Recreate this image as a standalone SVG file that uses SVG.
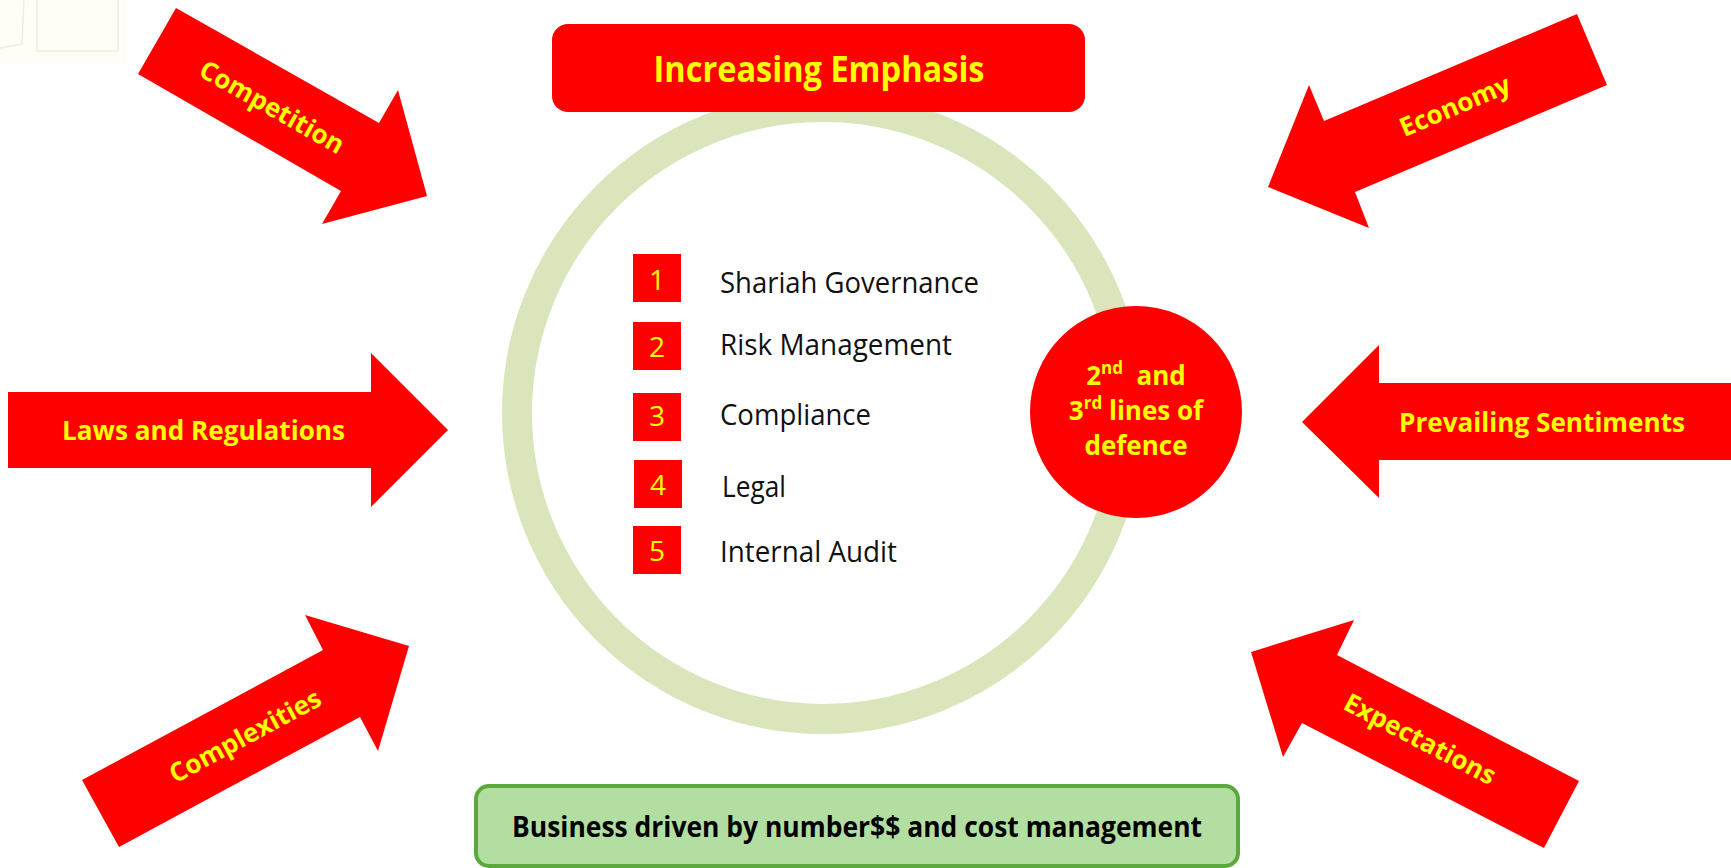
<svg xmlns="http://www.w3.org/2000/svg" width="1731" height="868" viewBox="0 0 1731 868">
<style>
.arrow{fill:#FF0000}
.lbl{font-family:"Open Sans","Liberation Sans",sans-serif;font-weight:700;font-size:26px;fill:#FFFF00}
.item{font-family:"Open Sans","Liberation Sans",sans-serif;font-size:29px;fill:#111111}
.num{font-family:"Open Sans","Liberation Sans",sans-serif;font-size:28px;fill:#FFFF00;text-anchor:middle}
.box{fill:#FF0000}
</style>
<rect width="1731" height="868" fill="#FFFFFF"/>
<g id="decor" opacity="0.9">
<rect x="0" y="0" width="126" height="64" fill="#FEFEF6"/>
<rect x="37" y="-2" width="81" height="53" fill="none" stroke="#EFEDD6" stroke-width="1.5"/>
<path d="M0,48 L22,44 L24,-2" fill="none" stroke="#EFEDD6" stroke-width="1.5"/>
</g>
<g id="ring">
<circle cx="823" cy="413" r="306" fill="none" stroke="#DAE5BC" stroke-width="30"/>
</g>
<g id="header">
<rect x="552" y="24" width="533" height="88" rx="16" fill="#FF0000"/>
<text x="819" y="82" text-anchor="middle" font-family="'Open Sans','Liberation Sans',sans-serif" font-weight="700" font-size="35" fill="#FFFF00" textLength="331" lengthAdjust="spacingAndGlyphs">Increasing Emphasis</text>
</g>
<g id="connectors">
<g id="arrow-competition">
<polygon class="arrow" points="176,8 379,123 398,90 427,196 322,224 341,191 138,74"/>
<text class="lbl" transform="translate(272,107) rotate(29.5)" x="0" y="9" text-anchor="middle">Competition</text>
</g>
<g id="arrow-economy">
<polygon class="arrow" points="1577,14 1607,85 1355,192 1369,228 1268,187 1309,85 1324,121"/>
<text class="lbl" transform="translate(1455,106) rotate(-22.9)" x="0" y="9" text-anchor="middle">Economy</text>
</g>
<g id="arrow-laws">
<polygon class="arrow" points="8,392 371,392 371,353 448,430 371,507 371,468 8,468"/>
<text class="lbl" x="62" y="440" textLength="283" lengthAdjust="spacingAndGlyphs">Laws and Regulations</text>
</g>
<g id="arrow-prevailing">
<polygon class="arrow" points="1731,383 1379,383 1379,345 1302,422 1379,498 1379,460 1731,460"/>
<text class="lbl" x="1399" y="432" textLength="286" lengthAdjust="spacingAndGlyphs">Prevailing Sentiments</text>
</g>
<g id="arrow-complexities">
<polygon class="arrow" points="82,780 323,650 305,615 409,646 378,751 360,717 119,847"/>
<text class="lbl" transform="translate(245,736) rotate(-28.3)" x="0" y="9" text-anchor="middle">Complexities</text>
</g>
<g id="arrow-expectations">
<polygon class="arrow" points="1579,781 1544,848 1302,723 1283,757 1251,652 1354,620 1337,655"/>
<text class="lbl" transform="translate(1420,739) rotate(27.5)" x="0" y="9" text-anchor="middle">Expectations</text>
</g>
</g>
<g id="item-1">
<rect class="box" x="633" y="254" width="48" height="48"/>
<text class="num" x="657" y="290">1</text>
<text class="item" x="720" y="293" textLength="259" lengthAdjust="spacingAndGlyphs">Shariah Governance</text>
</g>
<g id="item-2">
<rect class="box" x="633" y="322" width="48" height="48"/>
<text class="num" x="657" y="357">2</text>
<text class="item" x="720" y="355" textLength="232" lengthAdjust="spacingAndGlyphs">Risk Management</text>
</g>
<g id="item-3">
<rect class="box" x="633" y="393" width="48" height="48"/>
<text class="num" x="657" y="426">3</text>
<text class="item" x="720" y="425" textLength="151" lengthAdjust="spacingAndGlyphs">Compliance</text>
</g>
<g id="item-4">
<rect class="box" x="634" y="460" width="48" height="48"/>
<text class="num" x="658" y="495">4</text>
<text class="item" x="722" y="497" textLength="64" lengthAdjust="spacingAndGlyphs">Legal</text>
</g>
<g id="item-5">
<rect class="box" x="633" y="526" width="48" height="48"/>
<text class="num" x="657" y="561">5</text>
<text class="item" x="720" y="562" textLength="177" lengthAdjust="spacingAndGlyphs">Internal Audit</text>
</g>
<g id="lines-of-defence">
<circle cx="1136" cy="412" r="106" fill="#FF0000"/>
<text class="lbl" x="1136" y="385" text-anchor="middle" font-size="27">2<tspan font-size="17" dy="-11">nd</tspan><tspan dy="11" xml:space="preserve">  and</tspan></text>
<text class="lbl" x="1136" y="420" text-anchor="middle" font-size="27">3<tspan font-size="17" dy="-11">rd</tspan><tspan dy="11"> lines of</tspan></text>
<text class="lbl" x="1136" y="455" text-anchor="middle" font-size="27">defence</text>
</g>
<g id="business">
<rect x="476" y="786" width="762" height="80" rx="13" fill="#B3DEA2" stroke="#5BA83C" stroke-width="4"/>
<text x="857" y="837" text-anchor="middle" font-family="'Open Sans','Liberation Sans',sans-serif" font-weight="700" font-size="28" fill="#000000" textLength="690" lengthAdjust="spacingAndGlyphs">Business driven by number$$ and cost management</text>
</g>
</svg>
